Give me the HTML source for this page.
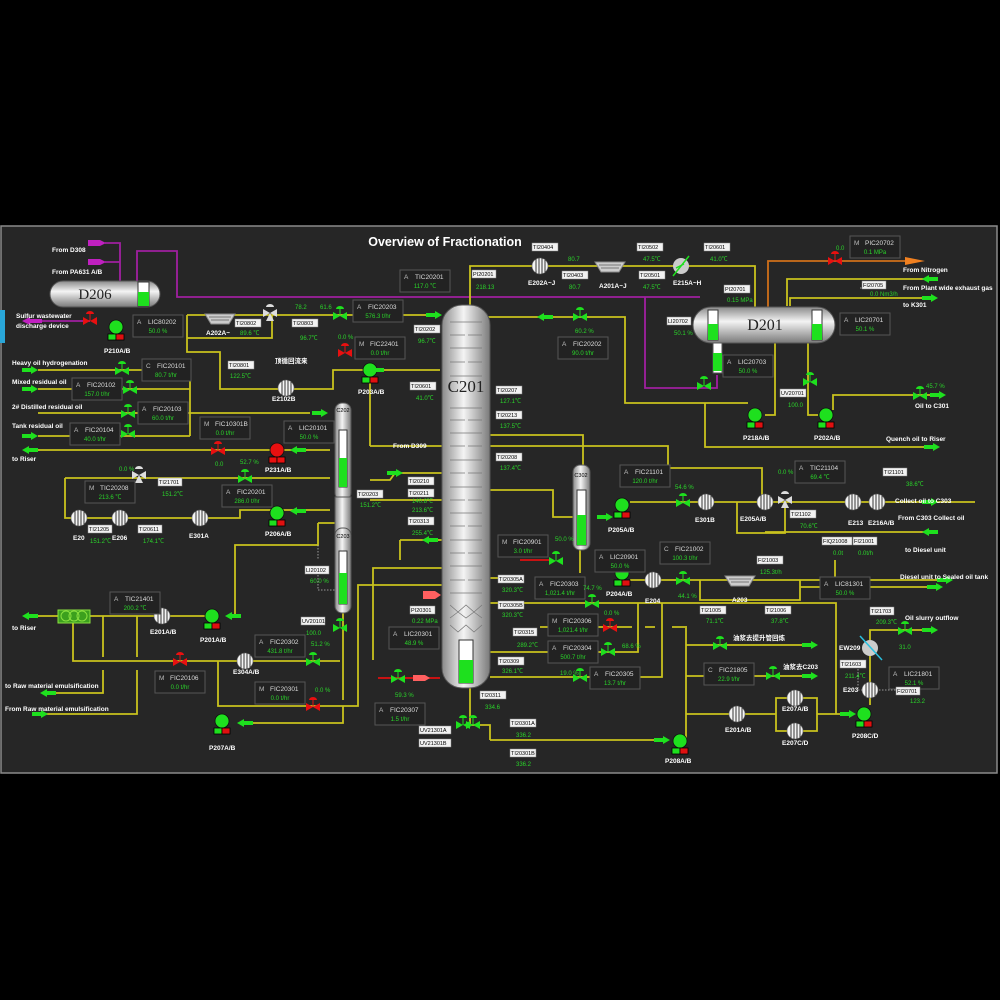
<!DOCTYPE html>
<html><head><meta charset="utf-8"><style>
html,body{margin:0;padding:0;background:#000;width:1000px;height:1000px;overflow:hidden}
svg{display:block}
text{font-family:"Liberation Sans","Noto Sans CJK SC",sans-serif}
text.serif{font-family:"Liberation Serif",serif}
.l{fill:#fff;font-size:6.5px;font-weight:bold}
.g{fill:#2ad42a;font-size:6px}
.t{fill:#000;font-size:5.5px}
.y{stroke:#c9c21e;stroke-width:1.8;fill:none}
.m{stroke:#a020a0;stroke-width:1.8;fill:none}
.bx{fill:#222;stroke:#555;stroke-width:1}
.bl{fill:#bbb;font-size:6.5px}
.bt{fill:#ddd;font-size:6.5px}
</style></head><body>
<svg width="1000" height="1000" viewBox="0 0 1000 1000" xmlns="http://www.w3.org/2000/svg">
<defs>
<linearGradient id="sv" x1="0" x2="1" y1="0" y2="0"><stop offset="0" stop-color="#8a8a8a"/><stop offset="0.45" stop-color="#f4f4f4"/><stop offset="1" stop-color="#7a7a7a"/></linearGradient>
<linearGradient id="sh" x1="0" x2="0" y1="0" y2="1"><stop offset="0" stop-color="#8a8a8a"/><stop offset="0.4" stop-color="#f4f4f4"/><stop offset="1" stop-color="#7a7a7a"/></linearGradient>
<g id="pg"><circle cx="0" cy="-3" r="7" fill="#1ee01e" stroke="#111" stroke-width="0.8"/><rect x="-8" y="4" width="8" height="6" fill="#1ee01e" stroke="#000" stroke-width="0.8"/><rect x="0" y="4" width="8" height="6" fill="#e01010" stroke="#000" stroke-width="0.8"/></g>
<g id="pr"><circle cx="0" cy="-3" r="7" fill="#e81010" stroke="#111" stroke-width="0.8"/><rect x="-8" y="4" width="8" height="6" fill="#e81010" stroke="#000" stroke-width="0.8"/><rect x="0" y="4" width="8" height="6" fill="#e81010" stroke="#000" stroke-width="0.8"/></g>
<g id="vg"><path d="M-7,-4 L0,0 L-7,4 Z M7,-4 L0,0 L7,4 Z" fill="#1ee01e"/><path d="M-4,-7 A4,3 0 0 1 4,-7 Z" fill="#1ee01e"/><line x1="0" y1="-7" x2="0" y2="0" stroke="#1ee01e"/></g>
<g id="vr"><path d="M-7,-4 L0,0 L-7,4 Z M7,-4 L0,0 L7,4 Z" fill="#e81010"/><path d="M-4,-7 A4,3 0 0 1 4,-7 Z" fill="#e81010"/><line x1="0" y1="-7" x2="0" y2="0" stroke="#e81010"/></g>
<g id="v3"><path d="M-7,-4 L0,0 L-7,4 Z M0,0 L4,8 L-4,8 Z M7,-4 L0,0 L7,4 Z" fill="#ddd"/><path d="M-4,-6 A4,3 0 0 1 4,-6 Z" fill="#ddd"/></g>
<g id="ar"><rect x="-8" y="-2" width="9" height="4" fill="#1ee01e"/><path d="M1,-4 L8,0 L1,4 Z" fill="#1ee01e"/></g>
<g id="al"><rect x="-1" y="-2" width="9" height="4" fill="#1ee01e"/><path d="M-1,-4 L-8,0 L-1,4 Z" fill="#1ee01e"/></g>
<g id="ex"><circle r="8" fill="#f4f4f4" stroke="#666" stroke-width="0.6"/><path d="M-4,-7 V7 M-1,-8 V8 M2,-8 V8 M5,-6 V6" stroke="#222" stroke-width="0.9"/></g>
<g id="cool"><path d="M-15,-6 H15 L9,4 H-9 Z" fill="#ccc" stroke="#888"/><path d="M-11,-3 H11 M-9,0 H9" stroke="#777"/></g>
</defs>
<rect x="0" y="0" width="1000" height="1000" fill="#000"/>
<rect x="1" y="226" width="996" height="547" fill="#262626" stroke="#8a8a8a" stroke-width="1.5"/>
<rect x="0" y="310" width="5" height="33" fill="#29a6d8"/>
<text x="445" y="246" fill="#fff" font-size="12.5" font-weight="bold" text-anchor="middle">Overview of Fractionation</text>

<path class="m" d="M105,243 H120 V283 M105,262 H120 M137,281 V251 H177 V297 H700 M645,297 V388 H717 V375 M40,321 H90"/>
<path d="M88,240 H100 L106,243 L100,246 H88 Z M88,259 H100 L106,262 L100,265 H88 Z M22,321 L30,317 V319 H42 V323 H30 V325 Z" fill="#c020c0"/>
<path d="M768,342 V261 H905" stroke="#d0701a" stroke-width="1.8" fill="none"/>
<path d="M905,257 L925,261 L905,265 Z" fill="#f08020"/>

<path class="y" d="M187,315 H440 M187,338 H272 V315 M187,315 V352 H220 V389 H333 V370 H440 M470,305 V266 H755 V307
M445,317 H625 V403 H748 M705,403 V447 H930
M775,342 V415 H765 M808,342 V415 H818 M833,410 V395 H940
M787,306 V279 H925 M790,306 V298 H930
M38,370 H190 M38,389 H190 M38,413 H310 M38,436 H190 M190,380 V436
M38,450 H330 M65,478 H330 M65,478 V518 H240 V510 H330
M318,523 H335 M318,523 V545 H235 V613 M370,446 H443 M370,446 V370
M370,480 H390 L395,473 H443 M370,500 H443 M400,540 H443 M400,540 V560
M38,616 H215 M230,616 H235 V613
M73,616 V661 H340 M103,616 V657 M137,616 V657 M103,670 V693 H45 M137,670 V714 H40
M218,661 V706 H358 V585 H443 M240,723 H343 V706 M343,612 V700 M373,660 V568 H443
M490,435 H583 V465 M490,446 H668 V468 H762 V502 M490,490 H553 V517 H573
M630,502 H975 M737,502 V533 H785 V502 M765,532 H935
M580,550 V573 M630,580 H950 M700,580 V600 H800 V580 M800,587 H940 M835,580 V560
M490,603 H836 V714 M540,627 H632 M645,627 H655 M672,627 H685 M490,652 H638 V603 M490,677 H662 V603
M686,626 V740 M686,645 H815 M686,676 H815 M686,714 H776 M776,698 V731 H817 V698 Z M817,714 H850
M490,740 H665 M470,688 V725 H490 V740
M870,655 V705 M870,640 V630 H935 M490,578 H505 M490,652 H500"/>
<path d="M860,288 H880 M858,666 V690 H905 M318,575 V590 H335 M318,545 V560" stroke="#bbb" stroke-width="0.8" stroke-dasharray="1.5,1.5" fill="none"/>
<path d="M378,678 H440 M520,560 H552" stroke="#e01010" stroke-width="1.8"/>
<path d="M413,675 H425 L430,678 L425,681 H413 Z M423,591 H435 L441,595 L435,599 H423 Z" fill="#ff6060"/>

<rect x="50" y="281" width="110" height="26" rx="13" fill="url(#sh)" stroke="#555"/>
<text class="serif" x="95" y="299" font-size="15" fill="#222" text-anchor="middle">D206</text>
<rect x="138" y="282" width="11" height="24" fill="#fff" stroke="#333"/><rect x="138" y="292" width="11" height="14" fill="#1ee01e"/>
<rect x="693" y="307" width="142" height="36" rx="18" fill="url(#sh)" stroke="#555"/>
<text class="serif" x="765" y="330" font-size="16" fill="#222" text-anchor="middle">D201</text>
<rect x="708" y="310" width="10" height="30" fill="#fff" stroke="#333"/><rect x="708" y="324" width="10" height="16" fill="#1ee01e"/>
<rect x="812" y="310" width="10" height="30" fill="#fff" stroke="#333"/><rect x="812" y="324" width="10" height="16" fill="#1ee01e"/>
<rect x="713" y="343" width="9" height="30" fill="#fff" stroke="#555"/><rect x="713" y="353" width="9" height="18" fill="#1ee01e"/>

<rect x="442" y="305" width="48" height="383" rx="20" fill="url(#sv)" stroke="#555"/>
<g stroke="#777" stroke-width="0.7" fill="none">
<path d="M450,322 H482 M450,335 H465 M468,335 H482 M450,348 H482 M450,362 H465 M468,362 H482 M450,376 H482 M450,408 H482 M450,420 H465 M468,420 H482 M450,433 H482 M450,446 H465 M468,446 H482 M450,460 H482 M450,473 H465 M468,473 H482 M450,487 H482 M450,500 H465 M468,500 H482 M450,513 H482 M450,526 H465 M468,526 H482 M450,540 H482 M450,553 H465 M468,553 H482 M450,566 H482 M450,580 H465 M468,580 H482 M450,593 H482"/>
<path d="M450,605 L458,612 L466,605 L474,612 L482,605 M450,618 L458,612 L466,618 L474,612 L482,618 M450,625 L458,632 L466,625 L474,632 L482,625"/>
</g>
<text class="serif" x="466" y="392" font-size="17" fill="#222" text-anchor="middle">C201</text>
<rect x="459" y="640" width="14" height="43" fill="#fff" stroke="#333"/><rect x="459" y="660" width="14" height="23" fill="#1ee01e"/>
<rect x="335" y="403" width="16" height="97" rx="7" fill="url(#sv)" stroke="#555"/>
<rect x="335" y="497" width="16" height="36" fill="url(#sv)" stroke="#555"/>
<rect x="335" y="528" width="16" height="85" rx="7" fill="url(#sv)" stroke="#555"/>
<rect x="339" y="430" width="8" height="57" fill="#fff" stroke="#333"/><rect x="339" y="458" width="8" height="29" fill="#1ee01e"/>
<rect x="339" y="551" width="8" height="53" fill="#fff" stroke="#333"/><rect x="339" y="573" width="8" height="31" fill="#1ee01e"/>
<text x="343" y="412" class="t" text-anchor="middle">C202</text><text x="343" y="538" class="t" text-anchor="middle">C203</text>
<rect x="573" y="465" width="17" height="85" rx="7" fill="url(#sv)" stroke="#555"/>
<rect x="577" y="490" width="9" height="55" fill="#fff" stroke="#333"/><rect x="577" y="515" width="9" height="30" fill="#1ee01e"/>
<text x="581" y="477" class="t" text-anchor="middle">C302</text>

<use href="#ex" x="286" y="388"/><use href="#ex" x="540" y="266"/><use href="#ex" x="79" y="518"/><use href="#ex" x="120" y="518"/><use href="#ex" x="200" y="518"/>
<use href="#ex" x="162" y="616"/><use href="#ex" x="245" y="661"/><use href="#ex" x="706" y="502"/><use href="#ex" x="765" y="502"/><use href="#ex" x="853" y="502"/><use href="#ex" x="877" y="502"/>
<use href="#ex" x="653" y="580"/><use href="#ex" x="737" y="714"/><use href="#ex" x="795" y="698"/><use href="#ex" x="795" y="731"/><use href="#ex" x="870" y="690"/>
<circle cx="681" cy="266" r="8" fill="#ccc"/><path d="M673,276 L689,256 M676,268 L684,264" stroke="#1ee01e" stroke-width="1.5"/>
<circle cx="870" cy="648" r="8" fill="#ccc"/><path d="M860,636 L882,660" stroke="#29c0e0" stroke-width="1.5"/>
<use href="#cool" x="220" y="320"/><use href="#cool" x="610" y="268"/><use href="#cool" x="740" y="582"/>
<rect x="58" y="610" width="32" height="13" fill="#3ca01e" stroke="#8ae040"/><circle cx="66" cy="616" r="5" fill="none" stroke="#8ae040"/><circle cx="74" cy="616" r="5" fill="none" stroke="#8ae040"/><circle cx="82" cy="616" r="5" fill="none" stroke="#8ae040"/>

<use href="#pg" x="116" y="330"/><use href="#pg" x="370" y="373"/><use href="#pr" x="277" y="453"/><use href="#pg" x="277" y="516"/>
<use href="#pg" x="212" y="619"/><use href="#pg" x="222" y="724"/><use href="#pg" x="755" y="418"/><use href="#pg" x="826" y="418"/>
<use href="#pg" x="622" y="508"/><use href="#pg" x="622" y="576"/><use href="#pg" x="680" y="744"/><use href="#pg" x="864" y="717"/>
<use href="#vr" x="90" y="321"/><use href="#v3" x="270" y="313"/><use href="#vg" x="340" y="316"/><use href="#vr" x="345" y="353"/><use href="#vg" x="580" y="317"/>
<use href="#vr" x="835" y="261"/><use href="#vg" x="704" y="386"/><use href="#vg" x="810" y="382"/><use href="#vg" x="920" y="396"/>
<use href="#vg" x="122" y="371"/><use href="#vg" x="130" y="390"/><use href="#vg" x="128" y="414"/><use href="#vg" x="128" y="434"/>
<use href="#vr" x="218" y="451"/><use href="#v3" x="139" y="475"/><use href="#vg" x="245" y="479"/>
<use href="#vr" x="180" y="662"/><use href="#vg" x="313" y="662"/><use href="#vr" x="313" y="707"/><use href="#vg" x="340" y="628"/>
<use href="#vg" x="398" y="679"/><use href="#vg" x="463" y="725"/><use href="#vg" x="473" y="725"/>
<use href="#vg" x="683" y="503"/><use href="#v3" x="785" y="500"/><use href="#vg" x="556" y="561"/><use href="#vg" x="683" y="581"/>
<use href="#vg" x="592" y="604"/><use href="#vr" x="610" y="628"/><use href="#vg" x="608" y="652"/><use href="#vg" x="580" y="678"/>
<use href="#vg" x="720" y="646"/><use href="#vg" x="773" y="676"/><use href="#vg" x="905" y="631"/>
<use href="#ar" x="434" y="315"/><use href="#al" x="376" y="370"/><use href="#al" x="545" y="317"/><use href="#al" x="930" y="279"/><use href="#ar" x="930" y="298"/>
<use href="#ar" x="938" y="395"/><use href="#ar" x="932" y="447"/><use href="#ar" x="30" y="370"/><use href="#ar" x="30" y="389"/><use href="#ar" x="320" y="413"/>
<use href="#ar" x="30" y="436"/><use href="#al" x="30" y="450"/><use href="#al" x="298" y="450"/><use href="#al" x="298" y="511"/><use href="#ar" x="395" y="473"/>
<use href="#al" x="430" y="540"/><use href="#al" x="30" y="616"/><use href="#al" x="233" y="616"/><use href="#al" x="48" y="693"/><use href="#ar" x="40" y="714"/>
<use href="#al" x="245" y="723"/><use href="#ar" x="605" y="517"/><use href="#ar" x="930" y="502"/><use href="#al" x="930" y="532"/><use href="#ar" x="945" y="580"/>
<use href="#ar" x="935" y="587"/><use href="#ar" x="810" y="645"/><use href="#ar" x="810" y="676"/><use href="#ar" x="930" y="630"/><use href="#ar" x="848" y="714"/><use href="#ar" x="662" y="740"/>

<g>
<rect class="bx" x="133" y="315" width="50" height="22"/><text class="bl" x="137" y="324">A</text><text class="bt" x="148" y="324">LIC80202</text><text class="g" x="158" y="333" text-anchor="middle">50.0 %</text>
<rect class="bx" x="353" y="300" width="50" height="22"/><text class="bl" x="357" y="309">A</text><text class="bt" x="368" y="309">FIC20203</text><text class="g" x="378" y="318" text-anchor="middle">576.3 t/hr</text>
<rect class="bx" x="355" y="337" width="50" height="22"/><text class="bl" x="359" y="346">M</text><text class="bt" x="370" y="346">FIC22401</text><text class="g" x="380" y="355" text-anchor="middle">0.0 t/hr</text>
<rect class="bx" x="400" y="270" width="50" height="22"/><text class="bl" x="404" y="279">A</text><text class="bt" x="415" y="279">TIC20201</text><text class="g" x="425" y="288" text-anchor="middle">117.0 ℃</text>
<rect class="bx" x="558" y="337" width="50" height="22"/><text class="bl" x="562" y="346">A</text><text class="bt" x="573" y="346">FIC20202</text><text class="g" x="583" y="355" text-anchor="middle">90.0 t/hr</text>
<rect class="bx" x="850" y="236" width="50" height="22"/><text class="bl" x="854" y="245">M</text><text class="bt" x="865" y="245">PIC20702</text><text class="g" x="875" y="254" text-anchor="middle">0.1 MPa</text>
<rect class="bx" x="840" y="313" width="50" height="22"/><text class="bl" x="844" y="322">A</text><text class="bt" x="855" y="322">LIC20701</text><text class="g" x="865" y="331" text-anchor="middle">50.1 %</text>
<rect class="bx" x="723" y="355" width="50" height="22"/><text class="bl" x="727" y="364">A</text><text class="bt" x="738" y="364">LIC20703</text><text class="g" x="748" y="373" text-anchor="middle">50.0 %</text>
<rect class="bx" x="142" y="359" width="49" height="22"/><text class="bl" x="146" y="368">C</text><text class="bt" x="157" y="368">FIC20101</text><text class="g" x="166" y="377" text-anchor="middle">80.7 t/hr</text>
<rect class="bx" x="72" y="378" width="50" height="22"/><text class="bl" x="76" y="387">A</text><text class="bt" x="87" y="387">FIC20102</text><text class="g" x="97" y="396" text-anchor="middle">157.0 t/hr</text>
<rect class="bx" x="138" y="402" width="50" height="22"/><text class="bl" x="142" y="411">A</text><text class="bt" x="153" y="411">FIC20103</text><text class="g" x="163" y="420" text-anchor="middle">60.0 t/hr</text>
<rect class="bx" x="70" y="423" width="50" height="22"/><text class="bl" x="74" y="432">A</text><text class="bt" x="85" y="432">FIC20104</text><text class="g" x="95" y="441" text-anchor="middle">40.0 t/hr</text>
<rect class="bx" x="200" y="417" width="50" height="22"/><text class="bl" x="204" y="426">M</text><text class="bt" x="215" y="426">FIC10301B</text><text class="g" x="225" y="435" text-anchor="middle">0.0 t/hr</text>
<rect class="bx" x="284" y="421" width="50" height="22"/><text class="bl" x="288" y="430">A</text><text class="bt" x="299" y="430">LIC20101</text><text class="g" x="309" y="439" text-anchor="middle">50.0 %</text>
<rect class="bx" x="85" y="481" width="50" height="22"/><text class="bl" x="89" y="490">M</text><text class="bt" x="100" y="490">TIC20208</text><text class="g" x="110" y="499" text-anchor="middle">213.6 ℃</text>
<rect class="bx" x="222" y="485" width="50" height="22"/><text class="bl" x="226" y="494">A</text><text class="bt" x="237" y="494">FIC20201</text><text class="g" x="247" y="503" text-anchor="middle">286.0 t/hr</text>
<rect class="bx" x="110" y="592" width="50" height="22"/><text class="bl" x="114" y="601">A</text><text class="bt" x="125" y="601">TIC21401</text><text class="g" x="135" y="610" text-anchor="middle">200.2 ℃</text>
<rect class="bx" x="255" y="635" width="50" height="22"/><text class="bl" x="259" y="644">A</text><text class="bt" x="270" y="644">FIC20302</text><text class="g" x="280" y="653" text-anchor="middle">431.8 t/hr</text>
<rect class="bx" x="155" y="671" width="50" height="22"/><text class="bl" x="159" y="680">M</text><text class="bt" x="170" y="680">FIC20106</text><text class="g" x="180" y="689" text-anchor="middle">0.0 t/hr</text>
<rect class="bx" x="255" y="682" width="50" height="22"/><text class="bl" x="259" y="691">M</text><text class="bt" x="270" y="691">FIC20301</text><text class="g" x="280" y="700" text-anchor="middle">0.0 t/hr</text>
<rect class="bx" x="389" y="627" width="50" height="22"/><text class="bl" x="393" y="636">A</text><text class="bt" x="404" y="636">LIC20301</text><text class="g" x="414" y="645" text-anchor="middle">48.9 %</text>
<rect class="bx" x="375" y="703" width="50" height="22"/><text class="bl" x="379" y="712">A</text><text class="bt" x="390" y="712">FIC20307</text><text class="g" x="400" y="721" text-anchor="middle">1.5 t/hr</text>
<rect class="bx" x="620" y="465" width="50" height="22"/><text class="bl" x="624" y="474">A</text><text class="bt" x="635" y="474">FIC21101</text><text class="g" x="645" y="483" text-anchor="middle">120.0 t/hr</text>
<rect class="bx" x="795" y="461" width="50" height="22"/><text class="bl" x="799" y="470">A</text><text class="bt" x="810" y="470">TIC21104</text><text class="g" x="820" y="479" text-anchor="middle">69.4 ℃</text>
<rect class="bx" x="498" y="535" width="50" height="22"/><text class="bl" x="502" y="544">M</text><text class="bt" x="513" y="544">FIC20901</text><text class="g" x="523" y="553" text-anchor="middle">3.0 t/hr</text>
<rect class="bx" x="595" y="550" width="50" height="22"/><text class="bl" x="599" y="559">A</text><text class="bt" x="610" y="559">LIC20901</text><text class="g" x="620" y="568" text-anchor="middle">50.0 %</text>
<rect class="bx" x="660" y="542" width="50" height="22"/><text class="bl" x="664" y="551">C</text><text class="bt" x="675" y="551">FIC21002</text><text class="g" x="685" y="560" text-anchor="middle">100.3 t/hr</text>
<rect class="bx" x="820" y="577" width="50" height="22"/><text class="bl" x="824" y="586">A</text><text class="bt" x="835" y="586">LIC81301</text><text class="g" x="845" y="595" text-anchor="middle">50.0 %</text>
<rect class="bx" x="535" y="577" width="50" height="22"/><text class="bl" x="539" y="586">A</text><text class="bt" x="550" y="586">FIC20303</text><text class="g" x="560" y="595" text-anchor="middle">1,021.4 t/hr</text>
<rect class="bx" x="548" y="614" width="50" height="22"/><text class="bl" x="552" y="623">M</text><text class="bt" x="563" y="623">FIC20306</text><text class="g" x="573" y="632" text-anchor="middle">1,021.4 t/hr</text>
<rect class="bx" x="548" y="641" width="50" height="22"/><text class="bl" x="552" y="650">A</text><text class="bt" x="563" y="650">FIC20304</text><text class="g" x="573" y="659" text-anchor="middle">500.7 t/hr</text>
<rect class="bx" x="590" y="667" width="50" height="22"/><text class="bl" x="594" y="676">A</text><text class="bt" x="605" y="676">FIC20305</text><text class="g" x="615" y="685" text-anchor="middle">13.7 t/hr</text>
<rect class="bx" x="704" y="663" width="50" height="22"/><text class="bl" x="708" y="672">C</text><text class="bt" x="719" y="672">FIC21805</text><text class="g" x="729" y="681" text-anchor="middle">22.9 t/hr</text>
<rect class="bx" x="889" y="667" width="50" height="22"/><text class="bl" x="893" y="676">A</text><text class="bt" x="904" y="676">LIC21801</text><text class="g" x="914" y="685" text-anchor="middle">52.1 %</text>
</g>

<g fill="#f2f2f2" stroke="#888" stroke-width="0.5">
<rect x="235" y="319" width="26" height="8"/><rect x="292" y="319" width="26" height="8"/><rect x="414" y="325" width="26" height="8"/><rect x="228" y="361" width="26" height="8"/>
<rect x="472" y="270" width="24" height="8"/><rect x="532" y="243" width="26" height="8"/><rect x="562" y="271" width="26" height="8"/><rect x="637" y="243" width="26" height="8"/><rect x="639" y="271" width="26" height="8"/><rect x="704" y="243" width="26" height="8"/>
<rect x="724" y="285" width="26" height="8"/><rect x="667" y="317" width="24" height="8"/><rect x="862" y="281" width="24" height="8"/><rect x="780" y="389" width="26" height="8"/>
<rect x="410" y="382" width="26" height="8"/><rect x="496" y="386" width="26" height="8"/><rect x="496" y="411" width="26" height="8"/><rect x="496" y="453" width="26" height="8"/>
<rect x="408" y="477" width="26" height="8"/><rect x="408" y="489" width="26" height="8"/><rect x="408" y="517" width="26" height="8"/><rect x="357" y="490" width="26" height="8"/>
<rect x="158" y="478" width="24" height="8"/><rect x="88" y="525" width="24" height="8"/><rect x="138" y="525" width="24" height="8"/><rect x="305" y="566" width="24" height="8"/><rect x="301" y="617" width="24" height="8"/>
<rect x="410" y="606" width="25" height="8"/><rect x="498" y="575" width="26" height="8"/><rect x="498" y="601" width="26" height="8"/><rect x="513" y="628" width="24" height="8"/><rect x="498" y="657" width="26" height="8"/>
<rect x="480" y="691" width="26" height="8"/><rect x="510" y="719" width="26" height="8"/><rect x="510" y="749" width="26" height="8"/><rect x="419" y="726" width="32" height="8"/><rect x="419" y="739" width="32" height="8"/>
<rect x="790" y="510" width="26" height="8"/><rect x="883" y="468" width="24" height="8"/><rect x="757" y="556" width="26" height="8"/><rect x="822" y="537" width="30" height="8"/><rect x="853" y="537" width="24" height="8"/>
<rect x="700" y="606" width="26" height="8"/><rect x="765" y="606" width="26" height="8"/><rect x="870" y="607" width="24" height="8"/><rect x="840" y="660" width="26" height="8"/><rect x="896" y="687" width="24" height="8"/>
</g>
<g class="t">
<text x="236" y="325">TI20802</text><text x="293" y="325">TI20803</text><text x="415" y="331">TI20202</text><text x="229" y="367">TI20801</text>
<text x="473" y="276">PI20201</text><text x="533" y="249">TI20404</text><text x="563" y="277">TI20403</text><text x="638" y="249">TI20502</text><text x="640" y="277">TI20501</text><text x="705" y="249">TI20601</text>
<text x="725" y="291">PI20701</text><text x="668" y="323">LI20702</text><text x="863" y="287">FI20705</text><text x="781" y="395">UV20701</text>
<text x="411" y="388">TI20601</text><text x="497" y="392">TI20207</text><text x="497" y="417">TI20213</text><text x="497" y="459">TI20208</text>
<text x="409" y="483">TI20210</text><text x="409" y="495">TI20211</text><text x="409" y="523">TI20313</text><text x="358" y="496">TI20203</text>
<text x="159" y="484">TI21701</text><text x="89" y="531">TI21205</text><text x="139" y="531">TI20611</text><text x="306" y="572">LI20102</text><text x="302" y="623">UV20101</text>
<text x="411" y="612">PI20301</text><text x="499" y="581">TI20305A</text><text x="499" y="607">TI20305B</text><text x="514" y="634">TI20315</text><text x="499" y="663">TI20309</text>
<text x="481" y="697">TI20311</text><text x="511" y="725">TI20301A</text><text x="511" y="755">TI20301B</text><text x="420" y="732">UV21301A</text><text x="420" y="745">UV21301B</text>
<text x="791" y="516">TI21102</text><text x="884" y="474">TI21101</text><text x="758" y="562">FI21003</text><text x="823" y="543">FIQ21008</text><text x="854" y="543">FI21001</text>
<text x="701" y="612">TI21005</text><text x="766" y="612">TI21006</text><text x="871" y="613">TI21703</text><text x="841" y="666">TI21603</text><text x="897" y="693">FI20701</text>
</g>
<g class="g">
<text x="240" y="335">89.6 ℃</text><text x="295" y="309">78.2</text><text x="320" y="309">61.6</text><text x="300" y="340">96.7℃</text><text x="418" y="343">96.7℃</text><text x="230" y="378">122.5℃</text>
<text x="338" y="339">0.0 %</text><text x="476" y="289">218.13</text><text x="568" y="261">80.7</text><text x="569" y="289">80.7</text><text x="643" y="261">47.5℃</text><text x="643" y="289">47.5℃</text>
<text x="710" y="261">41.0℃</text><text x="727" y="302">0.15 MPa</text><text x="674" y="335">50.1 %</text><text x="836" y="250">0.0</text><text x="870" y="296">0.0 Nm3/h</text>
<text x="788" y="407">100.0</text><text x="926" y="388">45.7 %</text><text x="575" y="333">60.2 %</text>
<text x="416" y="400">41.0℃</text><text x="500" y="403">127.1℃</text><text x="500" y="428">137.5℃</text><text x="500" y="470">137.4℃</text>
<text x="412" y="503">140.8℃</text><text x="412" y="512">213.6℃</text><text x="412" y="535">255.4℃</text><text x="360" y="507">151.2℃</text>
<text x="215" y="466">0.0</text><text x="240" y="464">52.7 %</text><text x="119" y="471">0.0 %</text><text x="162" y="496">151.2℃</text><text x="90" y="543">151.2℃</text><text x="143" y="543">174.1℃</text>
<text x="310" y="583">60.0 %</text><text x="306" y="635">100.0</text><text x="311" y="646">51.2 %</text><text x="315" y="692">0.0 %</text>
<text x="412" y="623">0.22 MPa</text><text x="395" y="697">59.3 %</text><text x="485" y="709">334.6</text><text x="516" y="737">336.2</text><text x="516" y="766">336.2</text>
<text x="502" y="592">320.3℃</text><text x="502" y="617">320.3℃</text><text x="517" y="647">289.2℃</text><text x="502" y="673">326.1℃</text>
<text x="675" y="489">54.6 %</text><text x="778" y="474">0.0 %</text><text x="800" y="528">70.6℃</text><text x="906" y="486">38.6℃</text><text x="555" y="541">50.0 %</text>
<text x="678" y="598">44.1 %</text><text x="760" y="574">125.3t/h</text><text x="833" y="555">0.0t</text><text x="858" y="555">0.0t/h</text><text x="706" y="623">71.1℃</text><text x="771" y="623">37.8℃</text>
<text x="583" y="590">74.7 %</text><text x="604" y="615">0.0 %</text><text x="622" y="648">68.6 %</text><text x="560" y="675">19.0 %</text>
<text x="876" y="624">209.3℃</text><text x="899" y="649">31.0</text><text x="845" y="678">211.4℃</text><text x="910" y="703">123.2</text>
</g>
<g class="l">
<text x="52" y="252">From D308</text><text x="52" y="274">From PA631 A/B</text><text x="16" y="318">Sulfur  wastewater</text><text x="16" y="328">discharge device</text>
<text x="104" y="353">P210A/B</text><text x="206" y="335">A202A~</text><text x="275" y="363">顶循回流来</text><text x="272" y="401">E2102B</text><text x="358" y="394">P203A/B</text>
<text x="528" y="285">E202A~J</text><text x="599" y="288">A201A~J</text><text x="673" y="285">E215A~H</text>
<text x="903" y="272">From Nitrogen</text><text x="903" y="290">From Plant wide exhaust gas</text><text x="903" y="307">to K301</text>
<text x="743" y="440">P218A/B</text><text x="814" y="440">P202A/B</text><text x="915" y="408">Oil to C301</text><text x="886" y="441">Quench oil to Riser</text>
<text x="12" y="365">Heavy oil hydrogenation</text><text x="12" y="384">Mixed residual oil</text><text x="12" y="409">2# Distilled residual oil</text><text x="12" y="428">Tank residual oil</text><text x="12" y="461">to Riser</text>
<text x="265" y="472">P231A/B</text><text x="393" y="448">From D309</text><text x="73" y="540">E20</text><text x="112" y="540">E206</text><text x="189" y="538">E301A</text><text x="265" y="536">P206A/B</text>
<text x="12" y="630">to Riser</text><text x="150" y="634">E201A/B</text><text x="200" y="642">P201A/B</text><text x="233" y="674">E304A/B</text>
<text x="5" y="688">to Raw material emulsification</text><text x="5" y="711">From Raw material emulsification</text><text x="209" y="750">P207A/B</text>
<text x="695" y="522">E301B</text><text x="740" y="521">E205A/B</text><text x="848" y="525">E213</text><text x="868" y="525">E216A/B</text><text x="895" y="503">Collect oil to C303</text><text x="898" y="520">From C303 Collect oil</text>
<text x="608" y="532">P205A/B</text><text x="905" y="552">to Diesel unit</text><text x="645" y="603">E204</text><text x="606" y="596">P204A/B</text><text x="732" y="602">A203</text><text x="900" y="579">Diesel unit to Sealed oil tank</text>
<text x="733" y="640">油浆去提升管回炼</text><text x="783" y="669">油浆去C203</text><text x="725" y="732">E201A/B</text><text x="782" y="711">E207A/B</text><text x="782" y="745">E207C/D</text>
<text x="665" y="763">P208A/B</text><text x="852" y="738">P208C/D</text><text x="839" y="650">EW209</text><text x="843" y="692">E203</text><text x="905" y="620">Oil slurry outflow</text>
</g>
</svg>
</body></html>
